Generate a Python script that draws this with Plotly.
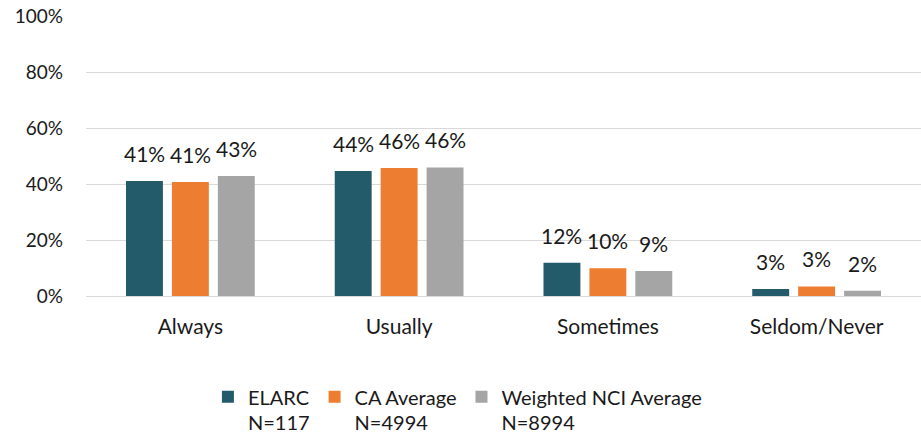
import plotly.graph_objects as go

categories = ["Always", "Usually", "Sometimes", "Seldom/Never"]
series_names = ["ELARC<br>N=117", "CA Average<br>N=4994", "Weighted NCI Average<br>N=8994"]
elarc = [41.1, 44.6, 11.9, 2.5]
ca_avg = [40.7, 45.7, 9.9, 3.4]
nci_avg = [42.9, 45.9, 8.9, 1.9]
labels_elarc = ["41%", "44%", "12%", "3%"]
labels_ca = ["41%", "46%", "10%", "3%"]
labels_nci = ["43%", "46%", "9%", "2%"]
y_ticks = [0, 20, 40, 60, 80, 100]
y_tick_text = ["0%", "20%", "40%", "60%", "80%", "100%"]

colors = ["#235B6B", "#ED7D31", "#A5A5A5"]
FONT = "Lato"
TXT = "#1A1A1A"

fig = go.Figure()
all_vals = [elarc, ca_avg, nci_avg]
all_labels = [labels_elarc, labels_ca, labels_nci]
for name, vals, col in zip(series_names, all_vals, colors):
    fig.add_trace(go.Bar(x=categories, y=vals, name=name, marker=dict(color=col, line=dict(width=0)),
                         hoverinfo="skip"))

slot_px = 46
for i, (vals, labs) in enumerate(zip(all_vals, all_labels)):
    for c, v, t in zip(categories, vals, labs):
        fig.add_annotation(x=c, y=v, text=t, showarrow=False, xref="x", yref="y",
                           xanchor="center", yanchor="bottom", xshift=(i - 1) * slot_px, yshift=13,
                           font=dict(family=FONT, size=21, color=TXT))

fig.update_layout(
    width=921, height=439,
    margin=dict(l=86, r=0, t=16, b=143, autoexpand=False),
    paper_bgcolor="white", plot_bgcolor="white",
    barmode="group", bargap=0.34, bargroupgap=0.196,
    font=dict(family=FONT, size=20, color=TXT),
    showlegend=True,
    legend=dict(orientation="h", x=0.146, y=-0.29, xanchor="left", yanchor="top",
                font=dict(family=FONT, size=20, color=TXT), valign="top",
                itemwidth=30, traceorder="normal"),
)
fig.update_yaxes(range=[0, 100], tickvals=y_ticks, ticktext=y_tick_text, showgrid=True,
                 gridcolor="#D9D9D9", gridwidth=1, zeroline=False, showline=False,
                 ticks="", ticklabelstandoff=22, tickfont=dict(family=FONT, size=19, color=TXT),
                 fixedrange=True, automargin=False)
fig.update_xaxes(showline=True, linecolor="#D9D9D9", linewidth=1, ticks="",
                 ticklabelstandoff=12, tickfont=dict(family=FONT, size=21, color=TXT),
                 fixedrange=True, automargin=False)

fig.write_html("out.html", config={"displayModeBar": False},
               post_script="document.body.style.margin='0';document.body.style.overflow='hidden';")
